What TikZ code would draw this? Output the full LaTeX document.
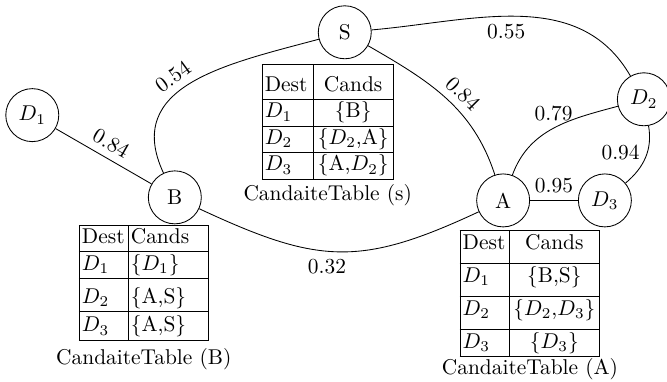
\documentclass[tikz,border=0pt]{standalone}
\usepackage{amssymb, amsmath}
\usepackage{array}
\usepackage{tikz}
\usetikzlibrary{positioning}
\setlength{\tabcolsep}{1pt}

\begin{document}
\begin{tikzpicture}[
    vertex/.style={circle, draw, minimum size=0.87cm, inner sep=0pt},
    ctable/.style={inner sep=0pt},
    caption/.style={inner sep=0.333em}]
  \useasboundingbox (0, 0) rectangle (10.95, 6.26);
  \foreach \n/\x/\y/\t in {D1/0.53/4.37/$D_1$, B/2.87/3.02/B, S/5.66/5.73/S,
      A/8.26/2.97/A, D3/9.93/2.97/$D_3$, D2/10.57/4.63/$D_2$} {
    \node[vertex] (\n) at (\x, \y) {\t};
  }

  \draw (D1) -- node[sloped, above] {0.84} (B);
  \draw (B) to[out=115, in=195, looseness=1.2] node[sloped, above, pos=0.45] {0.54} (S);
  \draw (S) to[out=-30, in=108] node[sloped, above, pos=0.55] {0.84} (A);
  \draw (S) to[out=5, in=120] node[below, pos=0.45] {0.55} (D2);
  \draw (A) to[out=70, in=195] node[above, pos=0.5] {0.79} (D2);
  \draw (D2) to[out=-80, in=40] node[left, pos=0.42] {0.94} (D3);
  \draw (A) -- node[above] {0.95} (D3);
  \draw (B) to[out=-25, in=205, looseness=1.2] node[below, pos=0.45] {0.32} (A);

  % candidate tables
  \node[ctable] (tS) at (5.38, 4.26) {%
    \begin{tabular}{|p{21.4pt}|>{\centering\arraybackslash}p{34.9pt}|}
      \hline
      \rule{0pt}{12.3pt}Dest & Cands \\ \hline
      $D_1$ & \{B\} \\ \hline
      $D_2$ & \{$D_2$,A\} \\ \hline
      $D_3$ & \{A,$D_2$\} \\ \hline
    \end{tabular}};
  \node[caption, below=-1.5pt of tS] (cS) {CandaiteTable (s)};

  \node[ctable] (tB) at (2.36, 1.62) {%
    \begin{tabular}{|p{20.4pt}|p{34.9pt}|}
      \hline
      Dest & Cands \\ \hline
      $D_1$ & \{$D_1$\} \\ \hline
      \rule{0pt}{11.4pt}$D_2$ & \{A,S\} \\ \hline
      \rule{0pt}{9.4pt}$D_3$ & \{A,S\} \\ \hline
    \end{tabular}};
  \node[caption, below=0pt of tB] (cB) {CandaiteTable (B)};

  \node[ctable] (tA) at (8.70, 1.44) {%
    \begin{tabular}{|p{20.4pt}|>{\centering\arraybackslash}p{40pt}|}
      \hline
      Dest & Cands \\[3pt] \hline
      $D_1$ & \{B,S\} \\[3pt] \hline
      $D_2$ & \{$D_2$,$D_3$\} \\[3pt] \hline
      $D_3$ & \{$D_3$\} \\ \hline
    \end{tabular}};
  \node[caption, below=-2.8pt of tA] (cA) {CandaiteTable (A)};
\end{tikzpicture}
\end{document}
